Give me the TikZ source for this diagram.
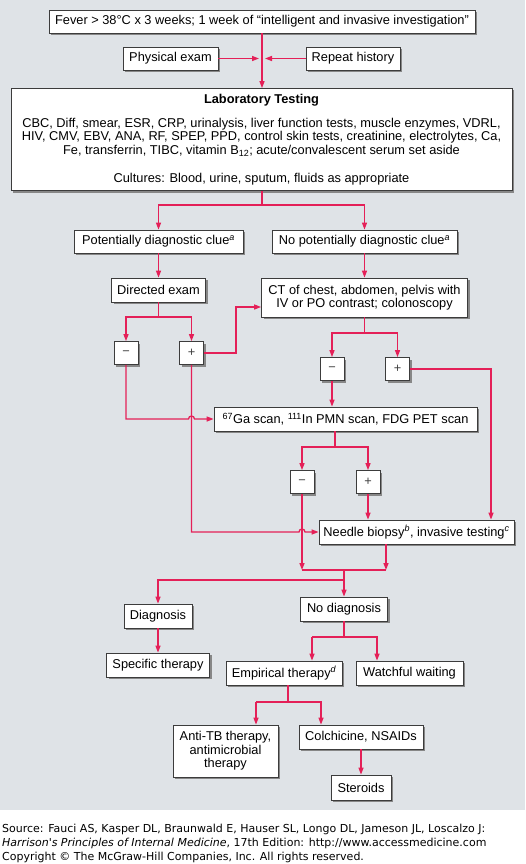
\documentclass[tikz,border=0pt]{standalone}
\usepackage{fontspec}
\setmainfont{Liberation Sans}
\newfontfamily\srcfont{DejaVu Sans}
\usepackage{xcolor}
\usepackage{tikz}
\usetikzlibrary{positioning, arrows.meta, calc, shadows}

\definecolor{flowred}{RGB}{228,32,88}
\definecolor{bggray}{RGB}{223,227,231}
\definecolor{boxline}{RGB}{60,60,60}
\definecolor{shadowgray}{RGB}{135,135,135}

\begin{document}
\begin{tikzpicture}[
        x=1pt, y=1pt,
        >={Triangle[length=7pt, width=5pt]}, % Arrowhead style
        box/.style={rectangle, draw=boxline, fill=white, line width=0.8pt, inner sep=0pt, align=center,
            font=\fontsize{12.8}{13.6}\selectfont,
            drop shadow={shadow xshift=2pt, shadow yshift=-2pt, fill=shadowgray, draw=none, opacity=1}},
        signbox/.style={box, minimum width=24, minimum height=23, text=darkgray},
        link/.style={draw=flowred, line width=1.3pt},
        source/.style={anchor=west, inner sep=0pt, font=\srcfont\fontsize{11}{13}\selectfont}
    ]

    % ==========================================
    % 0. BACKGROUND
    % ==========================================
    \useasboundingbox (0,-864) rectangle (525,0);
    \fill[bggray] (0,-810) rectangle (525,0);

    % ==========================================
    % 1. WORK-UP
    % ==========================================
    \node[box, minimum width=426, minimum height=23] (fever) at (262,-21.5)
        {Fever > 38°C x 3 weeks; 1 week of “intelligent and invasive investigation”};
    \node[box, minimum width=95, minimum height=23] (physexam) at (170.5,-58.5) {Physical exam};
    \node[box, minimum width=94, minimum height=23] (history)  at (353,-58.5) {Repeat history};

    \node[box, minimum width=501, minimum height=102] (labtest) at (261.5,-139.5)
        {\textbf{Laboratory Testing}\\[10pt]
         CBC, Diff, smear, ESR, CRP, urinalysis, liver function tests, muscle enzymes, VDRL,\\
         HIV, CMV, EBV, ANA, RF, SPEP, PPD, control skin tests, creatinine, electrolytes, Ca,\\
         Fe, transferrin, TIBC, vitamin B\textsubscript{12}; acute/convalescent serum set aside\\[14pt]
         Cultures: Blood, urine, sputum, fluids as appropriate};

    % ==========================================
    % 2. CLUES AND IMAGING
    % ==========================================
    \node[box, minimum width=169, minimum height=23] (clue)   at (158.5,-241.5) {Potentially diagnostic clue\textsuperscript{\itshape a}};
    \node[box, minimum width=185, minimum height=23] (noclue) at (364.5,-241.5) {No potentially diagnostic clue\textsuperscript{\itshape a}};

    \node[box, minimum width=94, minimum height=24] (directed) at (158.5,-290) {Directed exam};
    \node[box, minimum width=206, minimum height=39] (ctscan) at (364.5,-297.5)
        {CT of chest, abdomen, pelvis with\\IV or PO contrast; colonoscopy};

    \node[signbox] (neg1) at (126,-353) {−};
    \node[signbox] (pos1) at (191.5,-353) {+};
    \node[signbox] (neg2) at (332,-369) {−};
    \node[signbox] (pos2) at (397.5,-369) {+};

    \node[box, minimum width=263, minimum height=24] (gascan) at (345.5,-419)
        {\textsuperscript{67}Ga scan, \textsuperscript{111}In PMN scan, FDG PET scan};

    \node[signbox] (neg3) at (302,-482) {−};
    \node[signbox] (pos3) at (368,-482) {+};

    \node[box, minimum width=195, minimum height=24] (biopsy) at (416.5,-532)
        {Needle biopsy\textsuperscript{\itshape b}, invasive testing\textsuperscript{\itshape c}};

    % ==========================================
    % 3. OUTCOMES
    % ==========================================
    \node[box, minimum width=68, minimum height=24]  (diag)     at (158,-616) {Diagnosis};
    \node[box, minimum width=87, minimum height=24]  (nodiag)   at (344,-609) {No diagnosis};
    \node[box, minimum width=103, minimum height=24] (specific) at (158,-665) {Specific therapy};
    \node[box, minimum width=116, minimum height=24] (empiric)  at (284,-673) {Empirical therapy\textsuperscript{\itshape d}};
    \node[box, minimum width=107, minimum height=24] (waiting)  at (409.5,-673) {Watchful waiting};
    \node[box, minimum width=105, minimum height=52] (antitb)   at (225.5,-751) {Anti-TB therapy,\\antimicrobial\\therapy};
    \node[box, minimum width=124, minimum height=24] (colchic)  at (361,-737) {Colchicine, NSAIDs};
    \node[box, minimum width=60, minimum height=25]  (steroids) at (361,-787.5) {Steroids};

    % ==========================================
    % 4. CONNECTIONS
    % ==========================================
    \coordinate (labfork)  at (262,-205);
    \coordinate (dirfork)  at (158.5,-317);
    \coordinate (ctjog)    at (236,-307);
    \coordinate (ctfork)   at (364.5,-333);
    \coordinate (rail)     at (491,-369);
    \coordinate (gafork)   at (335,-447);
    \coordinate (mergeout) at (386,-570);
    \coordinate (merge)    at (344,-570);
    \coordinate (diagfork) at (344,-580);
    \coordinate (ndfork)   at (344,-637);
    \coordinate (empin)    at (312,-637);
    \coordinate (waitin)   at (377,-637);
    \coordinate (empfork)  at (288,-702);
    \coordinate (tbin)     at (256,-702);
    \coordinate (colin)    at (321,-702);

    \begin{scope}[every path/.style={link}]
    % Fever -> Laboratory testing
    \draw[->] (fever.south) -- (fever.south |- labtest.north);
    \draw[->] (physexam) -- ($(fever.south |- physexam)+(-3,0)$);
    \draw[->] (history) -- ($(fever.south |- history)+(3,0)$);

    % Laboratory testing -> clues
    \draw (labtest.south -| labfork) -- (labfork);
    \draw[->] (labfork) -| (clue);
    \draw[->] (labfork) -| (noclue);
    \draw[->] (clue) -- (directed);
    \draw[->] (noclue) -- (ctscan);

    % Directed exam -> - / +
    \draw (directed) -- (dirfork);
    \draw[->] (dirfork) -| (neg1);
    \draw[->] (dirfork) -| (pos1);
    \draw[->] (pos1) -| (ctjog) -- (ctscan.west |- ctjog);
    \draw[->] (neg1) |- ($(pos1 |- gascan)+(-3,0)$) arc[start angle=180, end angle=0, radius=3pt] -- (gascan.west);
    \draw[->] (pos1) |- ($(neg3 |- biopsy)+(-3,0)$) arc[start angle=180, end angle=0, radius=3pt] -- (biopsy.west);

    % CT -> - / +
    \draw (ctscan) -- (ctfork);
    \draw[->] (ctfork) -| (neg2);
    \draw[->] (ctfork) -| (pos2);
    \draw[->] (neg2) -- (neg2 |- gascan.north);
    \draw[->] (pos2) -- (rail) -- (rail |- biopsy.north);

    % Ga scan -> - / +
    \draw (gascan.south -| gafork) -- (gafork);
    \draw[->] (gafork) -| (neg3);
    \draw[->] (gafork) -| (pos3);
    \draw[->] (pos3) -- (pos3 |- biopsy.north);

    % merge -> diagnosis / no diagnosis
    \draw[->] (neg3) -- (neg3 |- merge);
    \draw[->] (biopsy.south -| mergeout) -- (mergeout);
    \draw (neg3 |- merge) -- (mergeout);
    \draw[->] (merge) -- (nodiag);
    \draw[->] (diagfork) -| (diag);
    \draw[->] (diag) -- (specific);

    % No diagnosis -> therapy
    \draw (nodiag) -- (ndfork);
    \draw[->] (empin) -- (waitin) -- (waitin |- waiting.north);
    \draw[->] (empin) -- (empin |- empiric.north);
    \draw (empiric.south -| empfork) -- (empfork);
    \draw[->] (tbin) -- (colin) -- (colin |- colchic.north);
    \draw[->] (tbin) -- (tbin |- antitb.north);
    \draw[->] (colchic) -- (steroids);
    \end{scope}

    % ==========================================
    % 5. SOURCE
    % ==========================================
    \node[source] (src1) at (2,-829)
        {Source: Fauci AS, Kasper DL, Braunwald E, Hauser SL, Longo DL, Jameson JL, Loscalzo J:};
    \node[source] (src2) at (2,-843)
        {\itshape Harrison's Principles of Internal Medicine\upshape, 17th Edition: http://www.accessmedicine.com};
    \node[source] (src3) at (2,-857)
        {Copyright © The McGraw-Hill Companies, Inc. All rights reserved.};

    \end{tikzpicture}
\end{document}
